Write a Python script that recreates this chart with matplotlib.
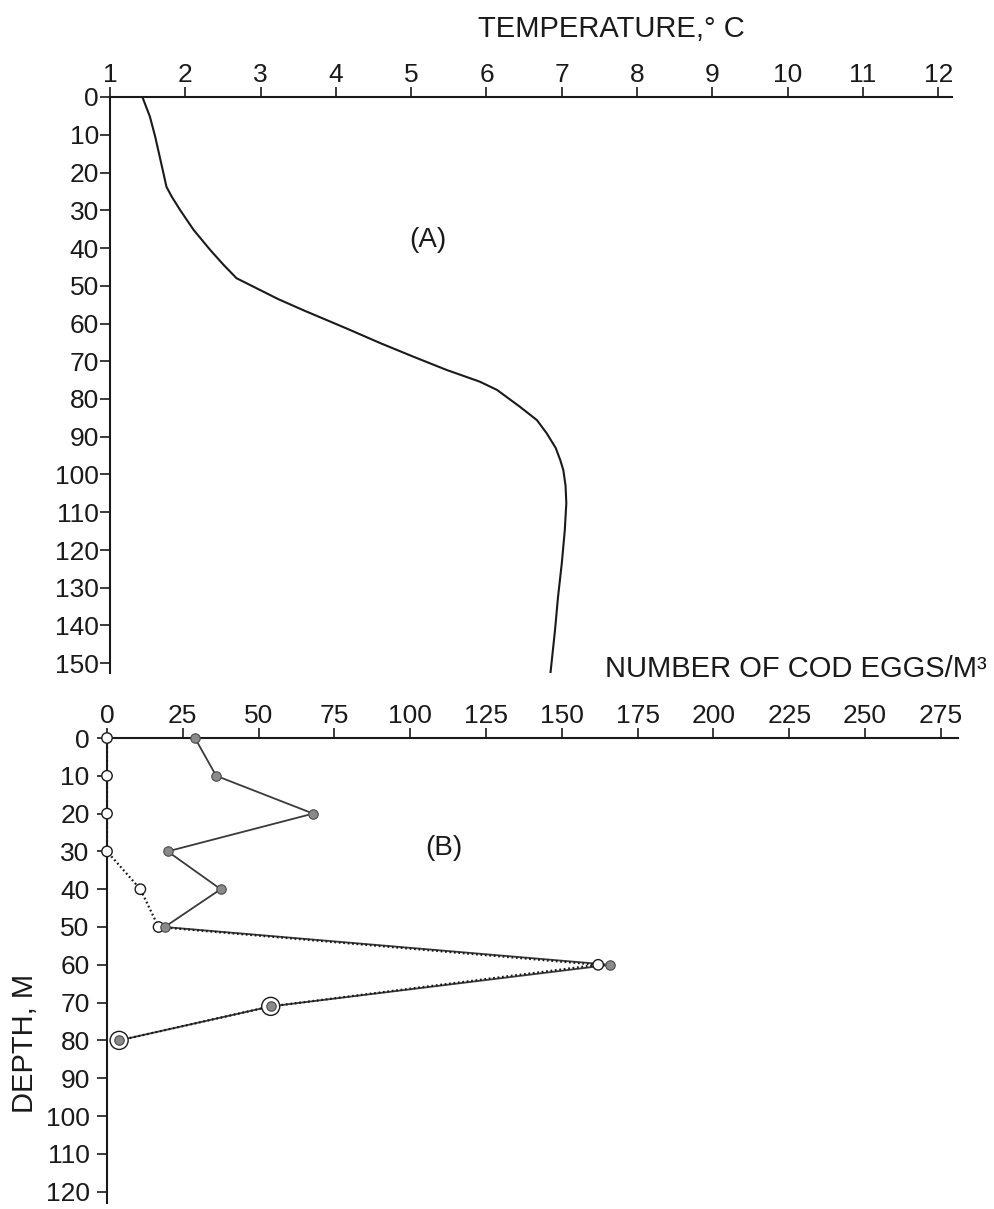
import matplotlib
matplotlib.use('Agg')
import matplotlib.pyplot as plt

plt.rcParams['font.family'] = ['Liberation Sans', 'DejaVu Sans']
INK = '#1a1a1a'

# (A) temperature profile
temp_depth = [0, 5.2, 10.5, 15.8, 20.2, 23.8, 26.4, 29.9, 35.2, 40.5, 44.5, 48.0,
              50.2, 53.5, 56.5, 61.3, 65.2, 68.8, 72.3, 75.4, 77.6, 82.0, 85.6, 89.1,
              93, 96.2, 98.8, 103, 107.6, 114.7, 123.5, 132.4, 141.2, 152.5]
temperature = [1.43, 1.53, 1.60, 1.66, 1.71, 1.75, 1.82, 1.93, 2.11, 2.33, 2.51, 2.68,
               2.90, 3.23, 3.57, 4.14, 4.59, 5.03, 5.47, 5.91, 6.14, 6.44, 6.67, 6.80,
               6.92, 6.98, 7.02, 7.05, 7.06, 7.04, 7.00, 6.95, 6.91, 6.85]
temp_ticks = list(range(1, 13))
temp_depth_ticks = list(range(0, 151, 10))

# (B) cod eggs per m3 by depth, two series
egg_depth = [0, 10, 20, 30, 40, 50, 60, 71, 80]
eggs_filled = [29, 36, 68, 20, 37.5, 19, 166, 54, 4]
eggs_open = [0, 0, 0, 0, 11, 17, 162, 54, 4]
egg_ticks = list(range(0, 276, 25))
egg_depth_ticks = list(range(0, 121, 10))

W, H = 994, 1209
fig = plt.figure(figsize=(W / 100, H / 100), dpi=100)


def frame(ax, ypad):
    for side in ('right', 'bottom'):
        ax.spines[side].set_visible(False)
    for side in ('top', 'left'):
        ax.spines[side].set_linewidth(1.5)
        ax.spines[side].set_color(INK)
    ax.xaxis.set_ticks_position('top')
    ax.xaxis.set_label_position('top')
    ax.tick_params(axis='both', direction='out', length=7.5, width=1.2,
                   color=INK, labelcolor=INK, labelsize=19)
    ax.tick_params(axis='x', pad=0)
    ax.tick_params(axis='y', pad=ypad)


# panel A
axA = fig.add_axes([110 / W, 1 - 673 / H, 842 / W, 576 / H])
axA.plot(temperature, temp_depth, color=INK, lw=1.5)
axA.set_xlim(1, 1 + 842 / 75.3)
axA.set_ylim(576 / 3.775, 0)
axA.set_xticks(temp_ticks)
axA.set_yticks(temp_depth_ticks)
frame(axA, 0.5)
axA.text(5.22, 38, '(A)', fontsize=20, ha='center', va='center', color=INK)

# panel B
axB = fig.add_axes([107 / W, 1 - 1203 / H, 851 / W, 465 / H])
axB.plot(eggs_filled, egg_depth, color='#3a3a3a', lw=1.3, zorder=2)
axB.plot(eggs_open, egg_depth, color=INK, lw=1.6, ls=(0, (0.8, 1.2)), zorder=2)
ring = [13 if a == b else 7.5 for a, b in zip(eggs_open, eggs_filled)]
axB.scatter(eggs_open, egg_depth, s=[r ** 2 for r in ring], facecolor='white',
            edgecolor=INK, linewidth=1.0, zorder=3, clip_on=False)
axB.plot(eggs_filled, egg_depth, ls='none', marker='o', ms=6.8, mfc='#8a8a8a',
         mec='#4a4a4a', mew=0.8, zorder=4, clip_on=False)
axB.set_xlim(0, 851 / 75.8 * 25)
axB.set_ylim(465 / 3.78, 0)
axB.set_xticks(egg_ticks)
axB.set_yticks(egg_depth_ticks)
frame(axB, 5)
axB.text(111, 29, '(B)', fontsize=20, ha='center', va='center', color=INK)

# axis titles
fig.text(478 / W, 1 - 37 / H, 'TEMPERATURE,° C', fontsize=21, color=INK,
         ha='left', va='baseline')
fig.text(605 / W, 1 - 677 / H, 'NUMBER OF COD EGGS/M³', fontsize=21, color=INK,
         ha='left', va='baseline')
fig.text(33 / W, 1 - 1113 / H, 'DEPTH, M', fontsize=21, color=INK, rotation=90,
         rotation_mode='anchor', ha='left', va='baseline')

fig.savefig('out.png', dpi=100, facecolor='white')
